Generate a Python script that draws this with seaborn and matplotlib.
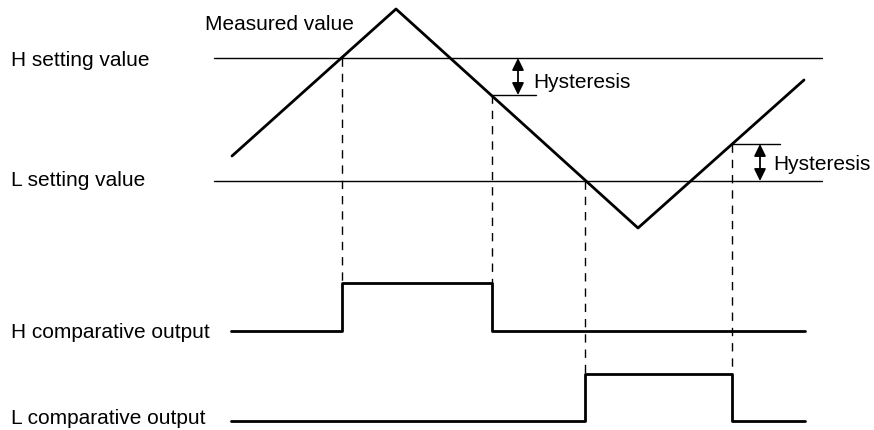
import matplotlib
matplotlib.use("Agg")
import matplotlib.pyplot as plt
import seaborn as sns
import pandas as pd

# ---- data (diagram coordinates, pixel-like units, y grows downward) ----
wave_x = [232, 396, 638, 804]
wave_y = [156, 9, 228, 80]

h_level = 58
l_level = 181
level_x = [214, 822]

h_out_x = [231, 342, 342, 492, 492, 805]
h_out_y = [331, 331, 283, 283, 331, 331]

l_out_x = [231, 585, 585, 732, 732, 805]
l_out_y = [421, 421, 374, 374, 421, 421]

dash_x = [342, 492, 585, 732]
dash_top = [58, 95, 181, 144]
dash_bot = [283, 283, 374, 374]

hyst_x = [518, 760]
hyst_top = [58, 144]
hyst_bot = [95, 181]
hyst_tick_x0 = [492, 732]
hyst_tick_x1 = [536, 780]
hyst_tick_y = [95, 144]
hyst_label_x = [533, 773]
hyst_label_y = [82, 164]

labels = ["H setting value", "L setting value", "H comparative output", "L comparative output"]
labels_y = [60, 181, 332, 419]

sns.set_theme(style="white")
plt.rcParams['font.family'] = ['Liberation Sans', 'DejaVu Sans']
plt.rcParams['text.color'] = 'black'

fig = plt.figure(figsize=(8.74, 4.30), dpi=100)
ax = fig.add_axes([0, 0, 1, 1])

# setting levels
for lv in (h_level, l_level):
    sns.lineplot(x=level_x, y=[lv, lv], ax=ax, color="black", linewidth=1.0)

# measured value
sns.lineplot(x=wave_x, y=wave_y, ax=ax, sort=False, estimator=None, color="black", linewidth=2.0)

# outputs
sns.lineplot(x=h_out_x, y=h_out_y, ax=ax, sort=False, estimator=None, color="black", linewidth=2.0)
sns.lineplot(x=l_out_x, y=l_out_y, ax=ax, sort=False, estimator=None, color="black", linewidth=2.0)

# dashed guide lines
for xv, t, b in zip(dash_x, dash_top, dash_bot):
    ax.plot([xv, xv], [t, b], color="black", linewidth=1.0, linestyle=(0, (6, 5)))

# hysteresis marks
for xv, t, b, x0, x1, ty, lx, ly in zip(hyst_x, hyst_top, hyst_bot, hyst_tick_x0,
                                         hyst_tick_x1, hyst_tick_y, hyst_label_x, hyst_label_y):
    ax.plot([x0, x1], [ty, ty], color="black", linewidth=1.0)
    ax.annotate("", xy=(xv, t), xytext=(xv, b),
                arrowprops=dict(arrowstyle="<|-|>,head_length=0.45,head_width=0.22",
                                color="black", lw=1.3,
                                mutation_scale=16, shrinkA=0, shrinkB=0))
    ax.text(lx, ly, "Hysteresis", fontsize=15, va="center", ha="left", color="black")

ax.text(205, 24, "Measured value", fontsize=15, va="center", ha="left", color="black")
for txt, yv in zip(labels, labels_y):
    ax.text(11, yv, txt, fontsize=15, va="center", ha="left", color="black")

ax.set_xlim(0, 874)
ax.set_ylim(430, 0)
ax.axis("off")

fig.savefig("out.png", dpi=100)
